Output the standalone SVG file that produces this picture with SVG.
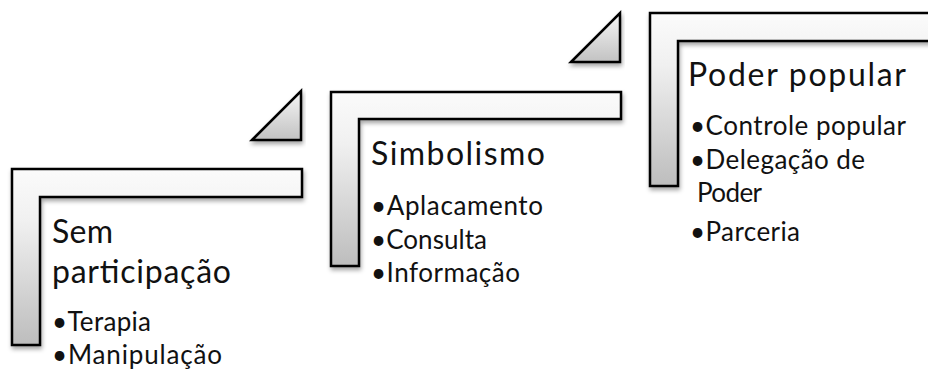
<svg xmlns="http://www.w3.org/2000/svg" width="928" height="373" viewBox="0 0 928 373">
<defs>
<linearGradient id="g" x1="0" y1="0" x2="0" y2="1">
<stop offset="0" stop-color="#fbfbfb"/>
<stop offset="0.3" stop-color="#f0f0f0"/>
<stop offset="1" stop-color="#bdbdbd"/>
</linearGradient>
<linearGradient id="gt" x1="0" y1="0" x2="0" y2="1">
<stop offset="0" stop-color="#f6f6f6"/>
<stop offset="1" stop-color="#c2c2c2"/>
</linearGradient>
<filter id="sh" x="-10%" y="-10%" width="120%" height="130%">
<feDropShadow dx="1" dy="3" stdDeviation="2" flood-color="#000" flood-opacity="0.35"/>
</filter>
</defs>
<style>
.shape{fill:url(#g);stroke:#000;stroke-width:2.5;stroke-linejoin:miter;filter:url(#sh)}
.tri{fill:url(#gt);stroke:#000;stroke-width:2.5;stroke-linejoin:miter;filter:url(#sh)}
.t{font-family:Lato,"Open Sans","Liberation Sans",sans-serif;fill:#111}
.h{font-size:32px}
.b{font-size:26px}
</style>
<rect width="928" height="373" fill="#fff"/>
<g id="connectors">
<path class="tri" d="M252,140 L301,91 L301,140 Z"/>
<path class="tri" d="M571,62 L620,13 L620,62 Z"/>
</g>
<g id="step1">
<path class="shape" d="M12,169 H302 V197 H40 V345 H12 Z"/>
<text class="t h" x="52" y="243" textLength="61" lengthAdjust="spacing">Sem</text>
<text class="t h" x="52" y="283" textLength="179" lengthAdjust="spacing">participação</text>
<text class="t b" x="52" y="331" textLength="99" lengthAdjust="spacing">•Terapia</text>
<text class="t b" x="52" y="364" textLength="170" lengthAdjust="spacing">•Manipulação</text>
</g>
<g id="step2">
<path class="shape" d="M331,92 H621 V119 H359 V266 H331 Z"/>
<text class="t h" x="371" y="165" textLength="174" lengthAdjust="spacing">Simbolismo</text>
<text class="t b" x="371" y="215" textLength="172" lengthAdjust="spacing">•Aplacamento</text>
<text class="t b" x="371" y="249" textLength="116" lengthAdjust="spacing">•Consulta</text>
<text class="t b" x="371" y="282" textLength="149" lengthAdjust="spacing">•Informação</text>
</g>
<g id="step3">
<path class="shape" d="M650,13 H940 V41 H678 V186 H650 Z"/>
<text class="t h" x="688" y="86" textLength="218" lengthAdjust="spacing">Poder popular</text>
<text class="t b" x="690" y="135" textLength="216" lengthAdjust="spacing">•Controle popular</text>
<text class="t b" x="690" y="169" textLength="175" lengthAdjust="spacing">•Delegação de</text>
<text class="t b" x="697" y="202" textLength="65" lengthAdjust="spacing">Poder</text>
<text class="t b" x="690" y="241" textLength="110" lengthAdjust="spacing">•Parceria</text>
</g>
</svg>
